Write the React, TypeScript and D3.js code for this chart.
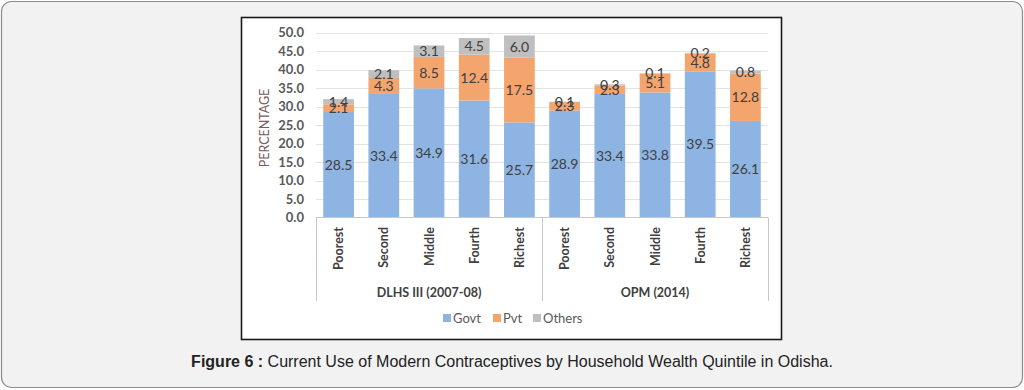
import * as d3 from "d3";
import { useEffect, useRef } from "react";

const groups = ["DLHS III (2007-08)", "OPM (2014)"];
const quintiles = ["Poorest", "Second", "Middle", "Fourth", "Richest"];
const seriesNames = ["Govt", "Pvt", "Others"];
const seriesColors = ["#8db4e2", "#f4a56e", "#bfbfbf"];

const govt = [28.5, 33.4, 34.9, 31.6, 25.7, 28.9, 33.4, 33.8, 39.5, 26.1];
const pvt = [2.1, 4.3, 8.5, 12.4, 17.5, 2.3, 2.3, 5.1, 4.8, 12.8];
const others = [1.4, 2.1, 3.1, 4.5, 6.0, 0.1, 0.3, 0.1, 0.2, 0.8];

const yTicks = [0, 5, 10, 15, 20, 25, 30, 35, 40, 45, 50];

const W = 1024;
const H = 390;

const Chart = () => {
  const ref = useRef<SVGSVGElement>(null);

  useEffect(() => {
    const svg = d3.select(ref.current);
    svg.selectAll("*").remove();

    // page background + rounded frame
    svg
      .append("rect")
      .attr("x", 1.5)
      .attr("y", 1.5)
      .attr("width", W - 3)
      .attr("height", H - 4)
      .attr("rx", 10)
      .attr("fill", "#f2f2f2")
      .attr("stroke", "#8c8c8c")
      .attr("stroke-width", 1.2);

    // chart box
    svg
      .append("rect")
      .attr("x", 241.5)
      .attr("y", 17.5)
      .attr("width", 540)
      .attr("height", 322)
      .attr("fill", "#fff")
      .attr("stroke", "#1a1a1a")
      .attr("stroke-width", 1.6);

    const rows = govt.map((g, i) => ({
      key: `${Math.floor(i / 5)}-${quintiles[i % 5]}`,
      name: quintiles[i % 5],
      Govt: g,
      Pvt: pvt[i],
      Others: others[i],
    }));

    const x = d3
      .scaleBand()
      .domain(rows.map((r) => r.key))
      .range([316, 768])
      .paddingInner(0.32)
      .paddingOuter(0.16);
    const y = d3.scaleLinear().domain([0, 50]).range([217.5, 32.5]);

    // gridlines
    svg
      .append("g")
      .selectAll("line")
      .data(yTicks.filter((t) => t > 0))
      .join("line")
      .attr("x1", 316)
      .attr("x2", 768)
      .attr("y1", (d) => Math.round(y(d)) + 0.5)
      .attr("y2", (d) => Math.round(y(d)) + 0.5)
      .attr("stroke", "#e3e3e3")
      .attr("stroke-width", 1);

    // y tick labels
    svg
      .append("g")
      .attr("font-family", "Lato, 'Open Sans', sans-serif")
      .attr("font-weight", "bold")
      .attr("font-size", 13)
      .attr("fill", "#595959")
      .selectAll("text")
      .data(yTicks)
      .join("text")
      .attr("x", 304)
      .attr("y", (d) => y(d))
      .attr("dy", "0.36em")
      .attr("text-anchor", "end")
      .text((d) => d.toFixed(1));

    // y title
    svg
      .append("text")
      .attr("transform", `translate(269,128) rotate(-90)`)
      .attr("text-anchor", "middle")
      .attr("font-family", "Lato, 'Open Sans', sans-serif")
      .attr("font-size", 12.5)
      .attr("fill", "#7a5a5e")
      .text("PERCENTAGE");

    // stacked bars
    const stack = d3.stack<any>().keys(seriesNames)(rows);
    const layers = svg
      .append("g")
      .selectAll("g")
      .data(stack)
      .join("g")
      .attr("fill", (_, i) => seriesColors[i]);

    layers
      .selectAll("rect")
      .data((d) => d)
      .join("rect")
      .attr("x", (d: any) => x(d.data.key)!)
      .attr("width", x.bandwidth())
      .attr("y", (d) => y(d[1]))
      .attr("height", (d) => y(d[0]) - y(d[1]));

    // value labels
    const labels = svg
      .append("g")
      .attr("font-family", "Lato, 'Open Sans', sans-serif")
      .attr("font-size", 14)
      .attr("fill", "#404040")
      .attr("text-anchor", "middle");
    stack.forEach((layer) => {
      labels
        .append("g")
        .selectAll("text")
        .data(layer)
        .join("text")
        .attr("x", (d: any) => x(d.data.key)! + x.bandwidth() / 2)
        .attr("y", (d) => y((d[0] + d[1]) / 2))
        .attr("dy", "0.36em")
        .text((d) => (d[1] - d[0]).toFixed(1));
    });

    // category axis frame
    const axis = svg
      .append("g")
      .attr("stroke", "#c8c8c8")
      .attr("stroke-width", 1);
    axis
      .append("line")
      .attr("x1", 316)
      .attr("x2", 768)
      .attr("y1", 217.5)
      .attr("y2", 217.5);
    [316, 542, 768].forEach((xv) => {
      axis
        .append("line")
        .attr("x1", xv + 0.5)
        .attr("x2", xv + 0.5)
        .attr("y1", 217.5)
        .attr("y2", 301);
    });

    // quintile labels (rotated)
    svg
      .append("g")
      .attr("font-family", "Lato, 'Open Sans', sans-serif")
      .attr("font-weight", "bold")
      .attr("font-size", 12.5)
      .attr("fill", "#404040")
      .selectAll("text")
      .data(rows)
      .join("text")
      .attr(
        "transform",
        (d) => `translate(${x(d.key)! + x.bandwidth() / 2},227) rotate(-90)`
      )
      .attr("text-anchor", "end")
      .attr("dy", "0.36em")
      .text((d) => d.name);

    // group labels
    svg
      .append("g")
      .attr("font-family", "Lato, 'Open Sans', sans-serif")
      .attr("font-weight", "bold")
      .attr("font-size", 12.5)
      .attr("fill", "#404040")
      .attr("text-anchor", "middle")
      .selectAll("text")
      .data(groups)
      .join("text")
      .attr("x", (_, i) => 316 + 113 + i * 226)
      .attr("y", 297)
      .text((d) => d);

    // legend
    const legendX = [443, 493, 533];
    const legend = svg
      .append("g")
      .attr("font-family", "Lato, 'Open Sans', sans-serif")
      .attr("font-size", 13)
      .attr("fill", "#595959");
    seriesNames.forEach((s, i) => {
      legend
        .append("rect")
        .attr("x", legendX[i])
        .attr("y", 314)
        .attr("width", 8)
        .attr("height", 8)
        .attr("fill", seriesColors[i]);
      legend
        .append("text")
        .attr("x", legendX[i] + 10)
        .attr("y", 318)
        .attr("dy", "0.36em")
        .text(s);
    });

    // caption
    const cap = svg
      .append("text")
      .attr("x", 512)
      .attr("y", 367)
      .attr("text-anchor", "middle")
      .attr("font-family", "'Liberation Sans', Arial, sans-serif")
      .attr("font-size", 16)
      .attr("fill", "#222");
    cap.append("tspan").attr("font-weight", "bold").text("Figure 6 :");
    cap
      .append("tspan")
      .text(
        " Current Use of Modern Contraceptives by Household Wealth Quintile in Odisha."
      );
  }, []);

  return <svg ref={ref} width={W} height={H} style={{ display: "block" }} />;
};

export default function App() {
  return (
    <div style={{ position: "absolute", left: 0, top: 0 }}>
      <Chart />
    </div>
  );
}
